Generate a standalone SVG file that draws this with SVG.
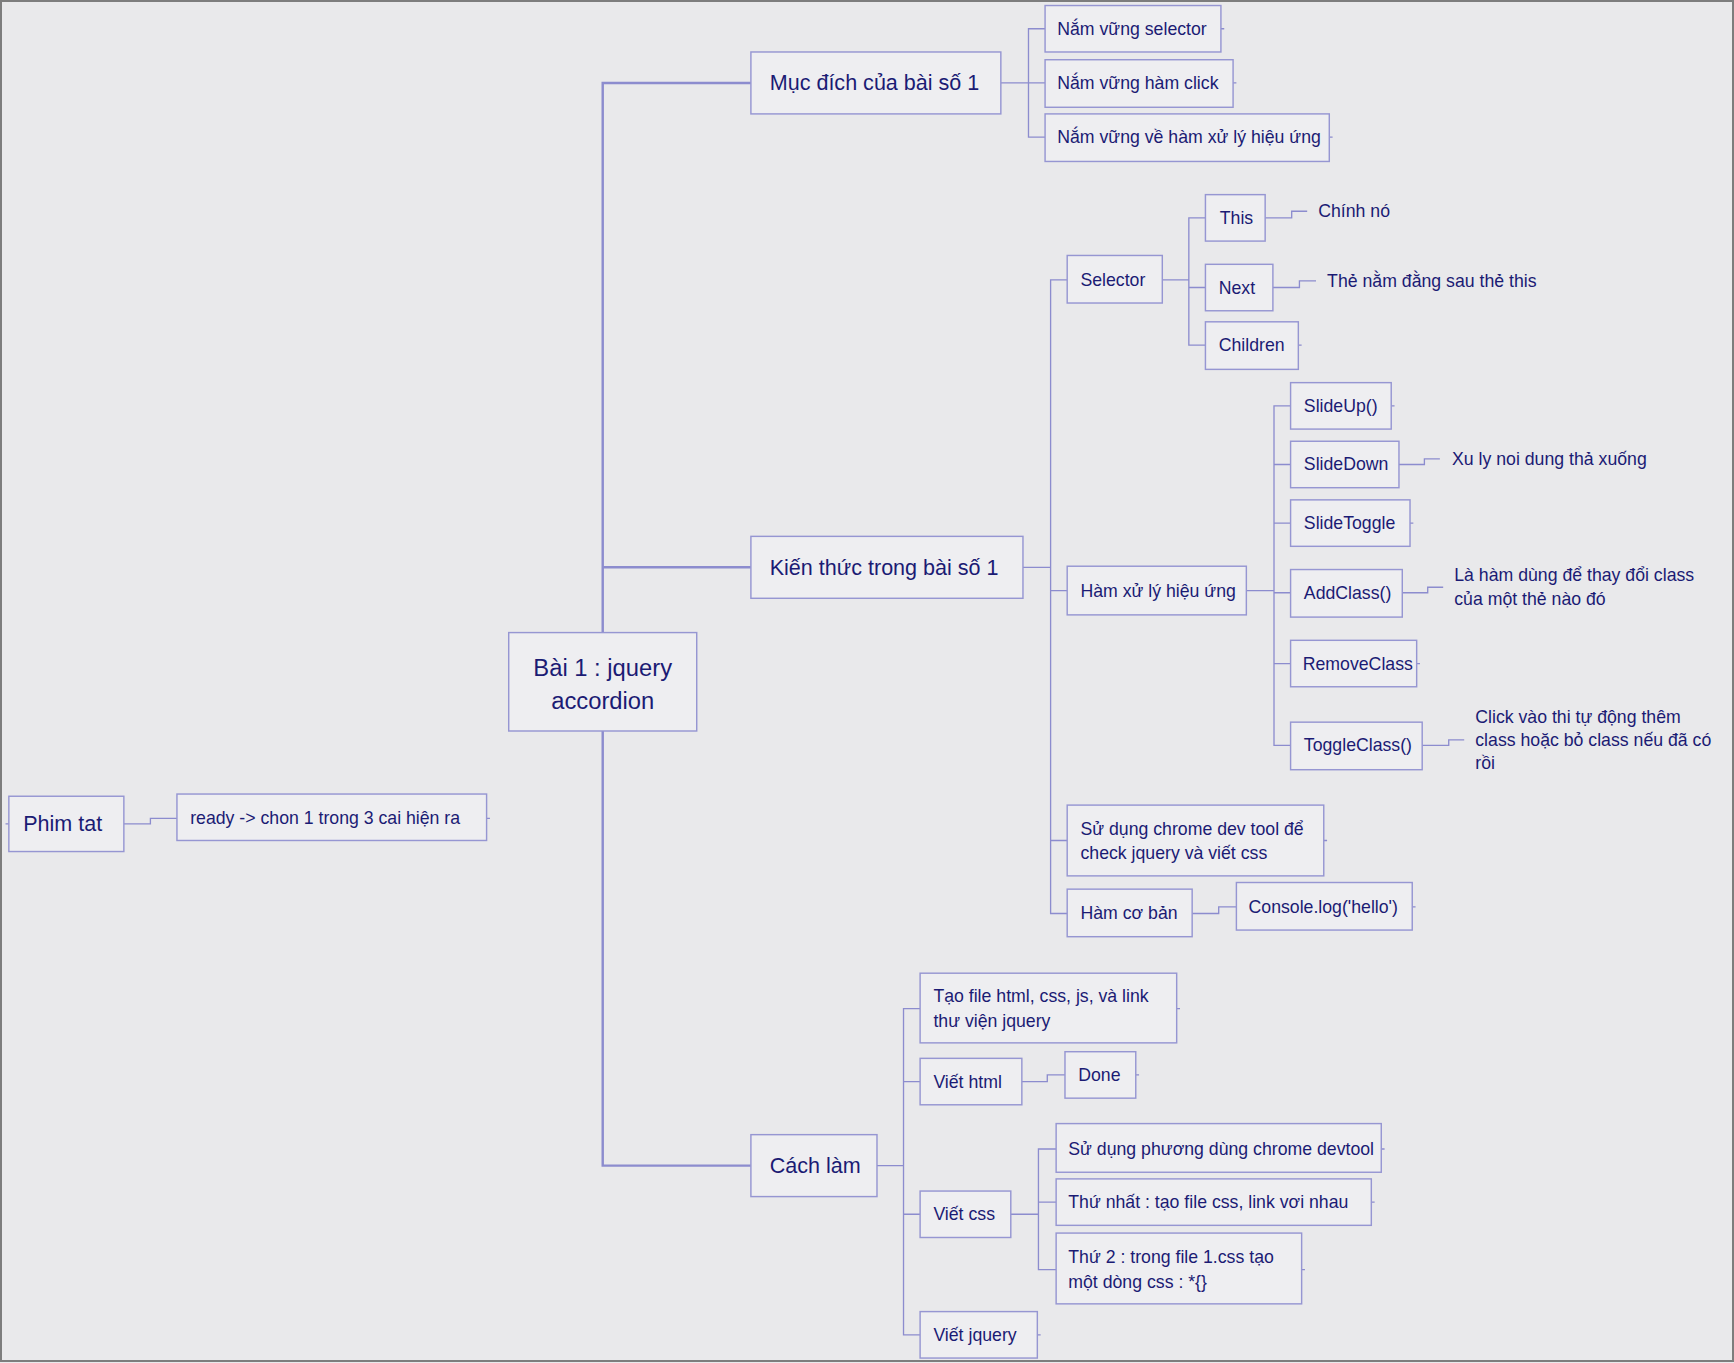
<svg xmlns="http://www.w3.org/2000/svg" width="1734" height="1363" viewBox="0 0 1734 1363">
<style>
.bg{fill:#e9e9eb}
.frame{fill:none;stroke:#7d7d7d;stroke-width:2}
.box{fill:#eeeef1;stroke:#9696d2;stroke-width:1.3}
.t{font-family:"Liberation Sans","DejaVu Sans",sans-serif;fill:#1b1b74;dominant-baseline:central}
.s{font-size:16px}
.m{font-size:19.5px}
.l{font-size:21.5px}
.c{fill:none;stroke:#8c8cce;stroke-width:1.2}
.r{fill:none;stroke:#8c8cce;stroke-width:2.2}
</style>
<rect class="bg" x="0" y="0" width="1734" height="1363"/>
<rect class="frame" x="1" y="1" width="1732" height="1360"/>
<g transform="scale(1.1059)">
<g id="connectors">
<path class="r" d="M545,572 V75 H679 M545,513 H679 M545,661 V1054 H679"/>
<path class="c" d="M905,75 H930 M945,26 H930 V124 H945 M930,75 H945"/>
<path class="c" d="M925,513 H950 M965,253 H950 V826 H965 M950,534 H965 M950,760 H965"/>
<path class="c" d="M1051,253 H1075 M1090,197 H1075 V312 H1090 M1075,260 H1090"/>
<path class="c" d="M1144,197 H1168 V191 H1182 M1151,260 H1175 V254 H1190"/>
<path class="c" d="M1127,534 H1152 M1167,367 H1152 V674 H1167 M1152,420 H1167 M1152,473 H1167 M1152,536 H1167 M1152,600 H1167"/>
<path class="c" d="M1265,420 H1288 V415 H1302 M1268,536 H1291 V531 H1305 M1286,674 H1310 V669 H1324"/>
<path class="c" d="M1078,826 H1102 V820 H1118"/>
<path class="c" d="M793,1054 H817 M832,912 H817 V1207 H832 M817,978 H832 M817,1098 H832"/>
<path class="c" d="M924,978 H947 V972 H963"/>
<path class="c" d="M914,1098 H939 M955,1039 H939 V1148 H955 M939,1087 H955"/>
<path class="c" d="M112,745 H136 V740 H160 M8,745 H5"/>
<path class="c" d="M1104,26 h3 M1115,75 h3 M1202,124 h3 M1174,312 h3 M1258,367 h3 M1275,473 h3 M1281,600 h3 M1197,760 h3 M1277,820 h3 M1064,912 h3 M1027,972 h3 M1249,1039 h3 M1240,1087 h3 M1177,1148 h3 M938,1207 h3 M440,740 h3"/>
</g>
<g id="root">
<rect class="box" x="460" y="572" width="170" height="89"/>
<text class="t l" x="545" y="604" text-anchor="middle">Bài 1 : jquery</text>
<text class="t l" x="545" y="633" text-anchor="middle">accordion</text>
</g>
<g id="muc-dich">
<rect class="box" x="679" y="47" width="226" height="56"/>
<text class="t m" x="696" y="75">Mục đích của bài số 1</text>
</g>
<g id="nam-vung-selector">
<rect class="box" x="945" y="5" width="159" height="42"/>
<text class="t s" x="956" y="26">Nắm vững selector</text>
</g>
<g id="nam-vung-click">
<rect class="box" x="945" y="54" width="170" height="43"/>
<text class="t s" x="956" y="75">Nắm vững hàm click</text>
</g>
<g id="nam-vung-hieu-ung">
<rect class="box" x="945" y="103" width="257" height="43"/>
<text class="t s" x="956" y="124">Nắm vững về hàm xử lý hiệu ứng</text>
</g>
<g id="kien-thuc">
<rect class="box" x="679" y="485" width="246" height="56"/>
<text class="t m" x="696" y="513">Kiến thức trong bài số 1</text>
</g>
<g id="selector">
<rect class="box" x="965" y="231" width="86" height="43"/>
<text class="t s" x="977" y="253">Selector</text>
</g>
<g id="this">
<rect class="box" x="1090" y="176" width="54" height="42"/>
<text class="t s" x="1103" y="197">This</text>
</g>
<g id="chinh-no">
<text class="t s" x="1192" y="191">Chính nó</text>
</g>
<g id="next">
<rect class="box" x="1090" y="239" width="61" height="42"/>
<text class="t s" x="1102" y="260">Next</text>
</g>
<g id="the-nam">
<text class="t s" x="1200" y="254">Thẻ nằm đằng sau thẻ this</text>
</g>
<g id="children">
<rect class="box" x="1090" y="291" width="84" height="43"/>
<text class="t s" x="1102" y="312">Children</text>
</g>
<g id="ham-xu-ly">
<rect class="box" x="965" y="512" width="162" height="44"/>
<text class="t s" x="977" y="534">Hàm xử lý hiệu ứng</text>
</g>
<g id="slideup">
<rect class="box" x="1167" y="346" width="91" height="42"/>
<text class="t s" x="1179" y="367">SlideUp()</text>
</g>
<g id="slidedown">
<rect class="box" x="1167" y="399" width="98" height="42"/>
<text class="t s" x="1179" y="420">SlideDown</text>
</g>
<g id="xu-ly-noi-dung">
<text class="t s" x="1313" y="415">Xu ly noi dung thả xuống</text>
</g>
<g id="slidetoggle">
<rect class="box" x="1167" y="452" width="108" height="42"/>
<text class="t s" x="1179" y="473">SlideToggle</text>
</g>
<g id="addclass">
<rect class="box" x="1167" y="515" width="101" height="43"/>
<text class="t s" x="1179" y="536">AddClass()</text>
</g>
<g id="la-ham-dung">
<text class="t s" x="1315" y="520">Là hàm dùng để thay đổi class</text>
<text class="t s" x="1315" y="542">của một thẻ nào đó</text>
</g>
<g id="removeclass">
<rect class="box" x="1167" y="579" width="114" height="42"/>
<text class="t s" x="1178" y="600">RemoveClass</text>
</g>
<g id="toggleclass">
<rect class="box" x="1167" y="653" width="119" height="43"/>
<text class="t s" x="1179" y="674">ToggleClass()</text>
</g>
<g id="click-vao">
<text class="t s" x="1334" y="648">Click vào thi tự động thêm</text>
<text class="t s" x="1334" y="669">class hoặc bỏ class nếu đã có</text>
<text class="t s" x="1334" y="690">rồi</text>
</g>
<g id="chrome-dev-tool">
<rect class="box" x="965" y="728" width="232" height="64"/>
<text class="t s" x="977" y="750">Sử dụng chrome dev tool để</text>
<text class="t s" x="977" y="771">check jquery và viết css</text>
</g>
<g id="ham-co-ban">
<rect class="box" x="965" y="804" width="113" height="43"/>
<text class="t s" x="977" y="826">Hàm cơ bản</text>
</g>
<g id="console-log">
<rect class="box" x="1118" y="798" width="159" height="43"/>
<text class="t s" x="1129" y="820">Console.log('hello')</text>
</g>
<g id="cach-lam">
<rect class="box" x="679" y="1026" width="114" height="56"/>
<text class="t m" x="696" y="1054">Cách làm</text>
</g>
<g id="tao-file">
<rect class="box" x="832" y="880" width="232" height="63"/>
<text class="t s" x="844" y="901">Tạo file html, css, js, và link</text>
<text class="t s" x="844" y="923">thư viện jquery</text>
</g>
<g id="viet-html">
<rect class="box" x="832" y="957" width="92" height="42"/>
<text class="t s" x="844" y="978">Viết html</text>
</g>
<g id="done">
<rect class="box" x="963" y="951" width="64" height="42"/>
<text class="t s" x="975" y="972">Done</text>
</g>
<g id="viet-css">
<rect class="box" x="832" y="1077" width="82" height="42"/>
<text class="t s" x="844" y="1098">Viết css</text>
</g>
<g id="su-dung-phuong">
<rect class="box" x="955" y="1016" width="294" height="44"/>
<text class="t s" x="966" y="1039">Sử dụng phương dùng chrome devtool</text>
</g>
<g id="thu-nhat">
<rect class="box" x="955" y="1066" width="285" height="42"/>
<text class="t s" x="966" y="1087">Thứ nhất : tạo file css, link vơi nhau</text>
</g>
<g id="thu-2">
<rect class="box" x="955" y="1115" width="222" height="64"/>
<text class="t s" x="966" y="1137">Thứ 2 : trong file 1.css tạo</text>
<text class="t s" x="966" y="1159">một dòng css : *{}</text>
</g>
<g id="viet-jquery">
<rect class="box" x="832" y="1186" width="106" height="42"/>
<text class="t s" x="844" y="1207">Viết jquery</text>
</g>
<g id="phim-tat">
<rect class="box" x="8" y="720" width="104" height="50"/>
<text class="t m" x="21" y="745">Phim tat</text>
</g>
<g id="ready">
<rect class="box" x="160" y="718" width="280" height="42"/>
<text class="t s" x="172" y="740">ready -&gt;  chon 1 trong 3 cai hiện ra</text>
</g>
</g>
</svg>
